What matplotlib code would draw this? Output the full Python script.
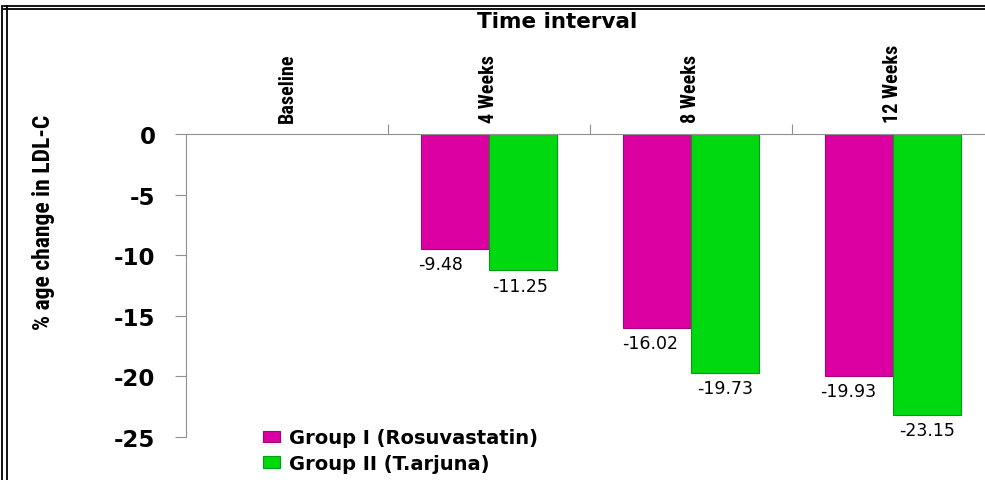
import numpy as np
import matplotlib.pyplot as plt
from matplotlib.lines import Line2D

categories = ["Baseline", "4 Weeks", "8 Weeks", "12 Weeks"]
group1 = [np.nan, -9.48, -16.02, -19.93]
group2 = [np.nan, -11.25, -19.73, -23.15]
labels = ["Group I (Rosuvastatin)", "Group II (T.arjuna)"]
yticks = [0, -5, -10, -15, -20, -25]

narrow = ["DejaVu Sans Condensed", "Liberation Sans Narrow", "Roboto Condensed",
          "DejaVu Sans"]

fig = plt.figure(figsize=(9.85, 4.81), dpi=100)
ax = fig.add_axes([0.1888, 0.0894, 0.8203, 0.6299])

x = np.arange(len(categories))
w = 0.337
b1 = ax.bar(x - w / 2, group1, w, color="#dc00a2", edgecolor="#a8007a",
            linewidth=0.8, label=labels[0])
b2 = ax.bar(x + w / 2, group2, w, color="#00d810", edgecolor="#00a010",
            linewidth=0.8, label=labels[1])

# value labels under the bars
offs1 = [0, -10, -5, -8]
offs2 = [0, -2, 0, 0]
for i in range(1, len(categories)):
    ax.annotate(f"{group1[i]:.2f}", (x[i] - w / 2, group1[i]),
                xytext=(offs1[i], -11), textcoords="offset points",
                ha="center", va="center", fontsize=12.5, family="DejaVu Sans")
    ax.annotate(f"{group2[i]:.2f}", (x[i] + w / 2, group2[i]),
                xytext=(offs2[i], -11), textcoords="offset points",
                ha="center", va="center", fontsize=12.5, family="DejaVu Sans")

ax.set_xlim(-0.5, 3.5)
ax.set_ylim(-25, 0)
ax.set_yticks(yticks)
ax.set_yticklabels([str(t) for t in yticks], fontsize=16.5, fontweight="bold",
                   family="DejaVu Sans")
ax.tick_params(axis="y", length=8, color="#909090", pad=14)

ax.xaxis.tick_top()
ax.set_xticks([0.5, 1.5, 2.5])
ax.set_xticklabels([])
ax.tick_params(axis="x", which="major", length=7, color="#909090")
ax.set_xticks(x, minor=True)
ax.tick_params(axis="x", which="minor", length=0, pad=9)
ax.set_xticklabels(categories, minor=True)
plt.setp(ax.get_xticklabels(minor=True), rotation=90, fontsize=14.5,
         fontweight="bold", family=narrow, va="bottom", ha="center")

for s in ["right", "bottom"]:
    ax.spines[s].set_visible(False)
ax.spines["top"].set_color("#909090")
ax.spines["left"].set_color("#909090")

ax.set_ylabel("% age change in LDL-C", fontsize=17, fontweight="bold",
              family=narrow)
ax.yaxis.set_label_coords(-0.162, 0.713)

fig.text(0.566, 0.955, "Time interval", ha="center", va="center",
         fontsize=15.5, fontweight="bold", family="DejaVu Sans")

fig.legend(handles=[b1, b2], labels=labels, loc="upper left",
           bbox_to_anchor=(0.259, 0.124), frameon=False,
           prop={"family": "DejaVu Sans", "weight": "bold", "size": 14},
           handlelength=0.9, handleheight=0.5, handletextpad=0.45,
           labelspacing=0.35, borderaxespad=0)

# image frame (top and left double lines)
for yy in [0.985, 0.979]:
    fig.add_artist(Line2D([0.004, 1.0], [yy, yy], color="black", lw=1.3,
                          transform=fig.transFigure))
for xx in [0.002, 0.007]:
    fig.add_artist(Line2D([xx, xx], [0.0, 0.985], color="black", lw=1.3,
                          transform=fig.transFigure))

fig.savefig("out.png", dpi=100)
